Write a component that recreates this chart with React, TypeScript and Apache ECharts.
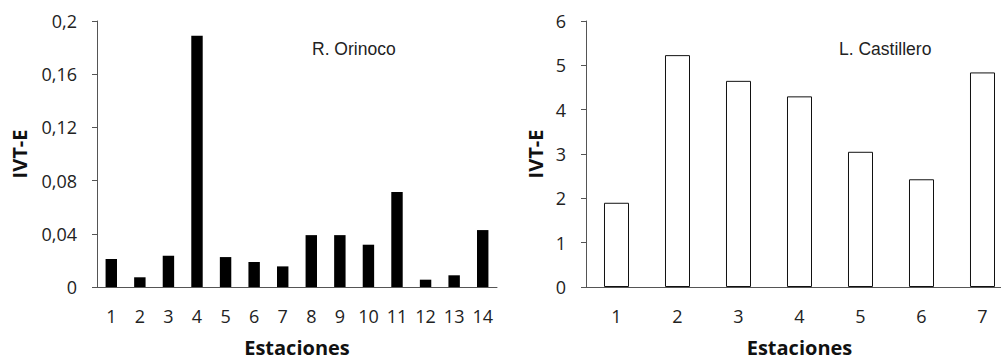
import React, { useEffect, useRef } from "react";
import * as echarts from "echarts";

const orinocoStations = ["1", "2", "3", "4", "5", "6", "7", "8", "9", "10", "11", "12", "13", "14"];
const orinocoValues = [0.021, 0.0073, 0.0235, 0.189, 0.0225, 0.0188, 0.0155, 0.039, 0.039, 0.0318, 0.0715, 0.0055, 0.0088, 0.0428];
const castilleroStations = ["1", "2", "3", "4", "5", "6", "7"];
const castilleroValues = [1.9, 5.23, 4.65, 4.3, 3.05, 2.43, 4.84];
const xAxisTitle = "Estaciones";
const yAxisTitle = "IVT-E";
const leftLabel = "R. Orinoco";
const rightLabel = "L. Castillero";

const FONT = "'Open Sans', 'Noto Sans', sans-serif";
const AXIS_COLOR = "#555";
const TEXT_COLOR = "#222";

export default function App() {
  const ref = useRef<HTMLDivElement>(null);
  useEffect(() => {
    if (!ref.current) return;
    const chart = echarts.init(ref.current, null, { renderer: "svg" });
    const fmt = (v: number) => String(+v.toFixed(2)).replace(".", ",");
    const xAxisCommon = {
      type: "category" as const,
      name: xAxisTitle,
      nameLocation: "middle" as const,
      nameGap: 50,
      nameTextStyle: { fontFamily: FONT, fontWeight: "bold" as const, fontSize: 20, lineHeight: 20, color: "#111" },
      axisLine: { lineStyle: { color: AXIS_COLOR, width: 1 } },
      axisTick: { length: 6, lineStyle: { color: AXIS_COLOR } },
      axisLabel: { fontFamily: FONT, fontSize: 18, color: TEXT_COLOR, margin: 20, interval: 0 },
      splitLine: { show: false },
    };
    const yAxisCommon = {
      type: "value" as const,
      name: yAxisTitle,
      nameLocation: "middle" as const,
      nameRotate: 90,
      nameTextStyle: { fontFamily: FONT, fontWeight: "bold" as const, fontSize: 20, color: "#111" },
      axisLine: { show: true, lineStyle: { color: AXIS_COLOR, width: 1 } },
      axisTick: { show: true, length: 5, inside: false, lineStyle: { color: AXIS_COLOR } },
      splitLine: { show: false },
    };
    chart.setOption({
      animation: false,
      backgroundColor: "#fff",
      grid: [
        { left: 97, top: 21, width: 400, height: 266, outerBoundsMode: "none", containLabel: false },
        { left: 586, top: 21, width: 427, height: 266, outerBoundsMode: "none", containLabel: false },
      ],
      xAxis: [
        { ...xAxisCommon, gridIndex: 0, data: orinocoStations },
        { ...xAxisCommon, gridIndex: 1, data: castilleroStations },
      ],
      yAxis: [
        {
          ...yAxisCommon,
          gridIndex: 0,
          min: 0,
          max: 0.2,
          interval: 0.04,
          nameGap: 68,
          axisLabel: { fontFamily: FONT, fontSize: 18, color: TEXT_COLOR, margin: 20, formatter: fmt },
        },
        {
          ...yAxisCommon,
          gridIndex: 1,
          min: 0,
          max: 6,
          interval: 1,
          nameGap: 41,
          axisLabel: { fontFamily: FONT, fontSize: 18, color: TEXT_COLOR, margin: 20, formatter: fmt },
        },
      ],
      graphic: [
        {
          type: "text",
          left: 312,
          top: 40,
          style: { text: leftLabel, fontFamily: "'Liberation Sans', Arial, sans-serif", fontSize: 17.5, fill: TEXT_COLOR },
        },
        {
          type: "text",
          left: 839,
          top: 40,
          style: { text: rightLabel, fontFamily: "'Liberation Sans', Arial, sans-serif", fontSize: 17.5, fill: TEXT_COLOR },
        },
      ],
      series: [
        {
          type: "bar",
          xAxisIndex: 0,
          yAxisIndex: 0,
          data: orinocoValues,
          barWidth: "40%",
          itemStyle: { color: "#000" },
        },
        {
          type: "bar",
          xAxisIndex: 1,
          yAxisIndex: 1,
          data: castilleroValues,
          barWidth: "41%",
          itemStyle: { color: "#fff", borderColor: "#111", borderWidth: 1 },
        },
      ],
    });
    return () => chart.dispose();
  }, []);
  return (
    <div
      ref={ref}
      style={{ position: "absolute", left: 0, top: 0, width: 1001, height: 360, background: "#fff" }}
    />
  );
}
